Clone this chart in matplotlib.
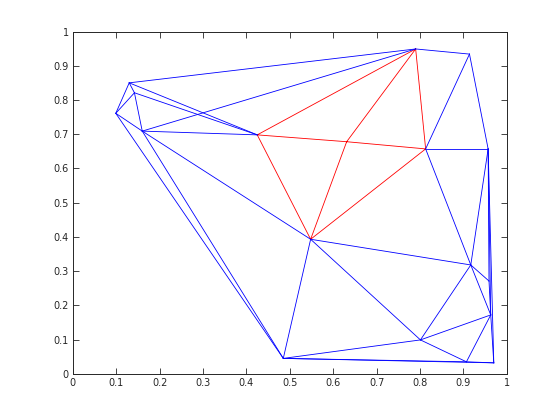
import matplotlib

matplotlib.use("Agg")
import matplotlib.pyplot as plt
import matplotlib.tri as mtri
import numpy as np

# vertices of the mesh
px = [0.099, 0.130, 0.142, 0.160, 0.425, 0.631, 0.790, 0.914, 0.813, 0.957,
      0.548, 0.485, 0.801, 0.907, 0.917, 0.963, 0.959, 0.970]
py = [0.761, 0.850, 0.821, 0.709, 0.698, 0.678, 0.949, 0.934, 0.657, 0.657,
      0.393, 0.045, 0.099, 0.035, 0.318, 0.172, 0.271, 0.032]

# triangles (vertex indices); the mesh has one overlapping triangle (3, 4, 6)
tris = [[0, 1, 2], [0, 2, 3], [0, 3, 11], [1, 2, 4], [1, 4, 6], [2, 3, 4],
        [3, 4, 10], [3, 10, 11], [3, 4, 6], [4, 5, 6], [4, 5, 10], [5, 6, 8],
        [5, 8, 10], [6, 7, 8], [7, 8, 9], [8, 9, 14], [8, 10, 14], [9, 14, 16],
        [9, 15, 16], [9, 15, 17], [10, 11, 12], [10, 12, 14], [11, 12, 13],
        [11, 13, 17], [12, 13, 15], [12, 14, 15], [13, 15, 17], [14, 15, 16]]

# highlighted triangles
red_tris = [[4, 6, 5], [5, 6, 8], [4, 5, 10], [5, 8, 10]]

ticks = [0, 0.1, 0.2, 0.3, 0.4, 0.5, 0.6, 0.7, 0.8, 0.9, 1]
tick_labels = ["0", "0.1", "0.2", "0.3", "0.4", "0.5", "0.6", "0.7", "0.8", "0.9", "1"]

plt.rcParams.update({"font.family": "DejaVu Sans", "font.size": 7})

fig = plt.figure(figsize=(5.6, 4.2), dpi=100)
ax = fig.add_axes([0.13, 0.11, 0.775, 0.815])

x = np.array(px)
y = np.array(py)
red = mtri.Triangulation(px, py, red_tris)
red_edges = {tuple(sorted(e)) for e in red.edges.tolist()}
blue_edges = [e for e in mtri.Triangulation(px, py, tris).edges.tolist()
              if tuple(sorted(e)) not in red_edges]
for i, j in blue_edges:
    ax.plot(x[[i, j]], y[[i, j]], color="#0000ff", lw=0.6)
ax.triplot(red, color="#ff0000", lw=0.6)

ax.set_xlim(0, 1)
ax.set_ylim(0, 1)
ax.set_xticks(ticks, tick_labels)
ax.set_yticks(ticks, tick_labels)
ax.tick_params(direction="in", top=True, right=True, length=4, width=0.6,
               colors="#262626", labelsize=7, pad=3)
for s in ax.spines.values():
    s.set_color("#262626")
    s.set_linewidth(0.7)

fig.savefig("out.png", dpi=100, facecolor="white")
